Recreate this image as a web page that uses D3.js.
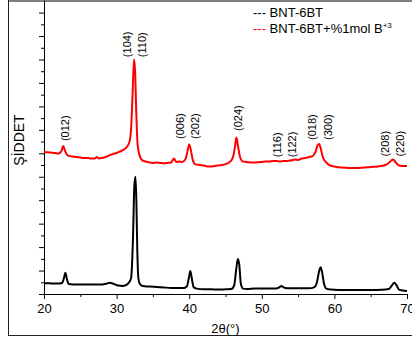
<!DOCTYPE html>
<html>
<head>
<meta charset="utf-8">
<script src="https://cdnjs.cloudflare.com/ajax/libs/d3/7.8.5/d3.min.js"></script>
<style>
	body { margin: 0; background: #fff; }
	text { font-family: "Liberation Sans", Arial, sans-serif; }
	.axis path, .axis line { stroke: #000; }
</style>
</head>
<body>
<div id="container"></div>
<script>
//xrd patterns (2theta in degrees, intensity in arbitrary units)
var redTheta = [20.0, 20.5, 21.0, 21.5, 22.0, 22.4, 22.65, 22.9, 23.2, 23.6, 24.0, 24.5, 25.0, 25.5, 26.0, 26.5, 27.0, 27.3, 27.5, 28.0, 28.5, 29.0, 29.5, 30.0, 30.5, 31.0, 31.5, 31.8, 32.0, 32.2, 32.4, 32.55, 32.7, 32.9, 33.2, 33.5, 34.0, 34.5, 35.0, 35.5, 36.0, 36.5, 37.0, 37.5, 37.9, 38.2, 38.6, 39.0, 39.5, 39.8, 40.0, 40.2, 40.5, 40.8, 41.5, 42.0, 42.5, 43.0, 43.5, 44.0, 44.5, 45.0, 45.5, 46.0, 46.3, 46.5, 46.7, 47.0, 47.3, 47.8, 48.5, 49.0, 50.0, 50.5, 51.0, 51.5, 52.0, 52.5, 53.0, 53.5, 54.0, 54.6, 55.0, 55.5, 56.0, 56.5, 57.0, 57.4, 57.7, 57.9, 58.1, 58.4, 58.8, 59.3, 60.0, 61.0, 62.0, 63.0, 64.0, 65.0, 66.0, 67.0, 67.5, 67.9, 68.1, 68.4, 68.8, 69.3, 70.0];
var redInt = [6.06, 6.04, 6.03, 6.01, 5.99, 6.10, 6.31, 6.10, 5.93, 5.88, 5.86, 5.84, 5.82, 5.80, 5.80, 5.78, 5.78, 5.84, 5.78, 5.80, 5.84, 5.91, 5.97, 6.01, 6.08, 6.16, 6.31, 6.52, 7.08, 8.49, 10.0, 9.47, 7.85, 6.35, 5.88, 5.71, 5.65, 5.61, 5.59, 5.61, 5.59, 5.57, 5.59, 5.61, 5.78, 5.63, 5.65, 5.63, 5.76, 6.14, 6.38, 6.18, 5.71, 5.54, 5.50, 5.48, 5.44, 5.44, 5.46, 5.48, 5.50, 5.54, 5.61, 5.80, 6.27, 6.67, 6.35, 5.84, 5.67, 5.63, 5.61, 5.61, 5.63, 5.65, 5.65, 5.67, 5.67, 5.65, 5.67, 5.67, 5.69, 5.74, 5.71, 5.78, 5.80, 5.84, 5.88, 6.06, 6.35, 6.40, 6.23, 5.84, 5.63, 5.50, 5.44, 5.39, 5.37, 5.37, 5.39, 5.42, 5.44, 5.50, 5.59, 5.71, 5.74, 5.63, 5.50, 5.46, 5.46];

var blackTheta = [20.0, 20.5, 21.0, 21.5, 22.0, 22.5, 22.75, 22.95, 23.15, 23.4, 24.0, 25.0, 26.0, 27.0, 28.0, 28.7, 29.1, 29.6, 30.2, 30.8, 31.3, 31.7, 32.0, 32.25, 32.45, 32.6, 32.72, 32.85, 33.0, 33.2, 33.6, 34.5, 35.5, 36.5, 37.5, 38.5, 39.3, 39.7, 39.95, 40.15, 40.35, 40.6, 41.0, 42.0, 43.0, 44.0, 45.0, 45.8, 46.2, 46.5, 46.7, 46.9, 47.1, 47.4, 48.0, 49.0, 50.0, 51.0, 52.0, 52.4, 52.7, 53.0, 53.5, 54.5, 55.5, 56.5, 57.2, 57.6, 57.9, 58.1, 58.3, 58.55, 58.9, 59.5, 60.5, 62.0, 63.5, 65.0, 66.5, 67.5, 67.9, 68.25, 68.55, 68.9, 69.4, 70.0];
var blackInt = [0.46, 0.46, 0.45, 0.45, 0.45, 0.47, 0.68, 0.91, 0.64, 0.43, 0.41, 0.41, 0.41, 0.41, 0.41, 0.45, 0.48, 0.43, 0.36, 0.34, 0.38, 0.49, 0.68, 2.30, 4.65, 5.00, 4.01, 1.88, 0.68, 0.43, 0.34, 0.32, 0.30, 0.28, 0.26, 0.26, 0.26, 0.34, 0.68, 0.98, 0.68, 0.30, 0.23, 0.20, 0.20, 0.19, 0.20, 0.21, 0.38, 1.11, 1.49, 1.24, 0.47, 0.23, 0.21, 0.23, 0.23, 0.23, 0.23, 0.28, 0.34, 0.28, 0.24, 0.24, 0.24, 0.24, 0.28, 0.51, 0.98, 1.14, 0.94, 0.47, 0.23, 0.19, 0.17, 0.17, 0.17, 0.17, 0.18, 0.21, 0.36, 0.48, 0.38, 0.19, 0.15, 0.13];

//miller index labels: text, 2theta of the label, intensity where the label starts
var hklLabels = ["(012)", "(104)", "(110)", "(006)", "(202)", "(024)", "(116)", "(122)", "(018)", "(300)", "(208)", "(220)"];
var hklTheta = [22.9, 31.4, 33.45, 38.75, 40.8, 46.75, 52.05, 54.2, 57.0, 59.15, 66.95, 69.05];
var hklLevel = [6.52, 10.1, 10.1, 6.61, 6.61, 6.95, 5.83, 5.83, 6.57, 6.57, 5.86, 5.86];

var xTicks = [20, 30, 40, 50, 60, 70];
var xMinorTicks = [25, 35, 45, 55, 65];

var legendNames = ["BNT-6BT", "BNT-6BT+%1mol B"];
var legendColors = ["#000000", "#ff0000"];

// size of the svg and the plot box inside it
var width = 412, height = 340;
var margin = {top: 0, right: 5, bottom: 46, left: 44};
var plotW = width - margin.left - margin.right,
	plotH = height - margin.top - margin.bottom;

var svg = d3.select("#container").append("svg")
	.attr("width", width)
	.attr("height", height);

// outer frame of the figure
svg.append("line")
	.attr("x1", 8).attr("x2", width).attr("y1", 1).attr("y2", 1)
	.style("stroke", "#808080").style("stroke-width", 2);
svg.append("line")
	.attr("x1", 8.5).attr("x2", 8.5).attr("y1", 0).attr("y2", 335.5)
	.style("stroke", "#222").style("stroke-width", 1);
svg.append("line")
	.attr("x1", 8).attr("x2", width).attr("y1", 335.5).attr("y2", 335.5)
	.style("stroke", "#222").style("stroke-width", 1.2);

var g = svg.append("g")
	.attr("transform", "translate(" + margin.left + "," + margin.top + ")");

//scales
var x = d3.scaleLinear().domain([20, 70]).range([0, plotW]);
var y = d3.scaleLinear().domain([0, plotH / 23.45]).range([plotH, 0]);

// x axis, major and minor ticks
g.append("g")
	.attr("class", "x axis")
	.attr("transform", "translate(0," + plotH + ")")
	.call(d3.axisBottom(x).tickValues(xTicks).tickSize(5).tickSizeOuter(0).tickPadding(5))
	.call(function(a) {
		a.selectAll("text").style("font-size", "13px").style("font-family", null);
	});
g.append("g")
	.attr("class", "x axis")
	.attr("transform", "translate(0," + plotH + ")")
	.call(d3.axisBottom(x).tickValues(xMinorTicks).tickSize(3).tickFormat(""))
	.select(".domain").remove();

// y axis has no labels, only ticks
g.append("g")
	.attr("class", "y axis")
	.call(d3.axisLeft(y).tickValues(d3.range(0, 13)).tickSize(5).tickSizeOuter(0).tickFormat(""));
g.append("g")
	.attr("class", "y axis")
	.call(d3.axisLeft(y).tickValues(d3.range(0.5, 12, 1)).tickSize(3).tickFormat(""))
	.select(".domain").remove();

// axis titles
svg.append("text")
	.attr("x", margin.left + plotW / 2)
	.attr("y", 333)
	.style("text-anchor", "middle")
	.style("font-size", "13px")
	.text("2θ(°)");

svg.append("text")
	.attr("transform", "translate(24,140) rotate(-90)")
	.style("text-anchor", "middle")
	.style("font-size", "14px")
	.text("ŞİDDET");

//the two patterns
var line = d3.line()
	.x(function(d) { return x(d[0]); })
	.y(function(d) { return y(d[1]); })
	.curve(d3.curveMonotoneX);

var blackData = blackTheta.map(function(t, i) { return [t, blackInt[i]]; });
var redData = redTheta.map(function(t, i) { return [t, redInt[i]]; });

g.append("path")
	.datum(blackData)
	.attr("d", line)
	.style("fill", "none")
	.style("stroke", legendColors[0])
	.style("stroke-width", 2)
	.style("stroke-linejoin", "round");

g.append("path")
	.datum(redData)
	.attr("d", line)
	.style("fill", "none")
	.style("stroke", legendColors[1])
	.style("stroke-width", 2)
	.style("stroke-linejoin", "round");

// hkl labels, rotated
g.selectAll(".hkl")
	.data(hklLabels).enter()
	.append("text")
		.attr("class", "hkl")
		.attr("transform", function(d, i) {
			return "translate(" + x(hklTheta[i]) + "," + y(hklLevel[i]) + ") rotate(-90)";
		})
		.attr("dy", "0.35em")
		.style("font-size", "11px")
		.text(function(d) { return d; });

// legend: dashes in the series colour, then the name
legendNames.forEach(function(name, i) {
	var t = svg.append("text")
		.attr("class", "legend")
		.attr("x", 253)
		.attr("y", 17 + i * 15.5)
		.style("font-size", "13px");
	t.append("tspan")
		.attr("fill", legendColors[i])
		.text("--- ");
	t.append("tspan")
		.attr("fill", "#000")
		.text(name);
	if (i == 1) {
		t.append("tspan")
			.attr("fill", "#000")
			.attr("dy", -5)
			.style("font-size", "8px")
			.text("+3");
	}
});
</script>
</body>
</html>
